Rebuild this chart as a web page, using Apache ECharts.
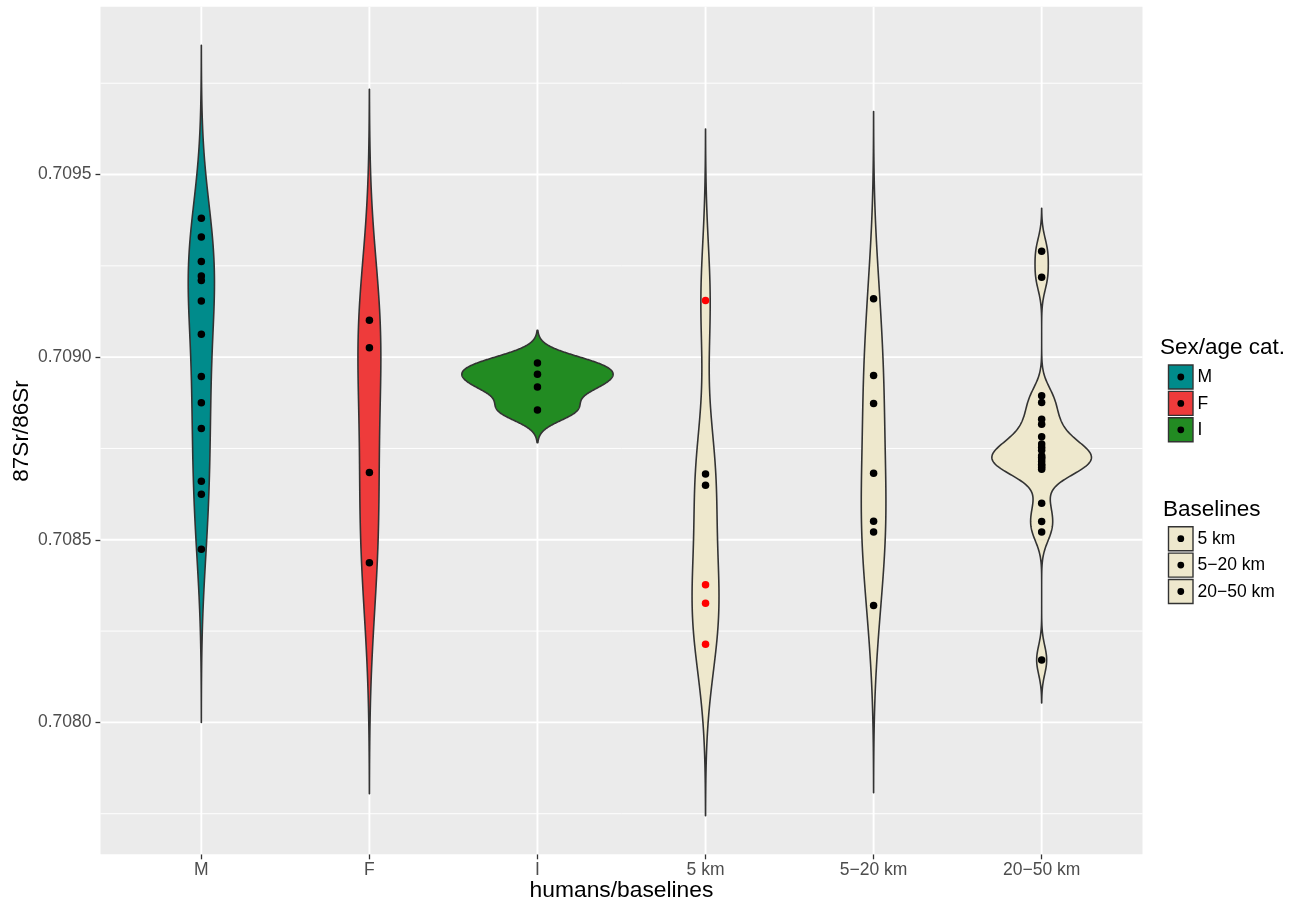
<!DOCTYPE html>
<html>
<head>
<meta charset="utf-8">
<script src="https://cdn.jsdelivr.net/npm/echarts@6/dist/echarts.min.js"></script>
<style>
html,body{margin:0;padding:0;background:#fff;}
#chart{width:1302px;height:905px;}
</style>
</head>
<body>
<div id="chart"></div>
<script>
// ---------- data ----------
const categories = ['M', 'F', 'I', '5 km', '5\u221220 km', '20\u221250 km'];
const valuesM = [0.709380, 0.709329, 0.709262, 0.709222, 0.709210, 0.709154, 0.709063,
                 0.708947, 0.708875, 0.708805, 0.708660, 0.708625, 0.708474];
const valuesF = [0.709101, 0.709026, 0.708684, 0.708437];
const valuesI = [0.708984, 0.708953, 0.708918, 0.708855];
const values5kmBlack = [0.708680, 0.708649];
const values5kmRed = [0.709155, 0.708377, 0.708326, 0.708214];
const values5to20 = [0.709160, 0.708950, 0.708873, 0.708682, 0.708551, 0.708521, 0.708320];
const values20to50 = [0.709290, 0.709219, 0.708894, 0.708876, 0.708830, 0.708816,
                      0.708782, 0.708762, 0.708753, 0.708745, 0.708730, 0.708726,
                      0.708721, 0.708714, 0.708707, 0.708703, 0.708698, 0.708693,
                      0.708600, 0.708550, 0.708521, 0.708171];
const yTickValues = [0.7080, 0.7085, 0.7090, 0.7095];
const yMinorValues = [0.70775, 0.70825, 0.70875, 0.70925, 0.70975];
const legendTitles = ['Sex/age cat.', 'Baselines'];

// ---------- styles ----------
const fillColors = ['#008B8B', '#EE3B3B', '#228B22', '#EEE8CD', '#EEE8CD', '#EEE8CD'];
const FONT = '"Liberation Sans", Arial, Helvetica, sans-serif';

// ---------- violin density (ggplot2 stat_ydensity: gaussian, bw.nrd0, trim = FALSE) ----------
const groups = [valuesM, valuesF, valuesI, values5kmBlack.concat(values5kmRed), values5to20, values20to50];
function q7(s, p) { const h = (s.length - 1) * p; const lo = Math.floor(h); const hi = Math.min(lo + 1, s.length - 1); return s[lo] + (h - lo) * (s[hi] - s[lo]); }
function bwNrd0(x) {
  const n = x.length; const mean = x.reduce((a, b) => a + b, 0) / n;
  const sd = Math.sqrt(x.reduce((a, b) => a + (b - mean) * (b - mean), 0) / (n - 1));
  const s = x.slice().sort((a, b) => a - b);
  const iqr = q7(s, 0.75) - q7(s, 0.25);
  let lo = Math.min(sd, iqr / 1.34);
  if (!(lo > 0)) lo = sd || Math.abs(s[0]) || 1;
  return 0.9 * lo * Math.pow(n, -0.2);
}
function kde(x) {
  const bw = bwNrd0(x); const n = x.length;
  const from = Math.min(...x) - 3 * bw, to = Math.max(...x) + 3 * bw;
  const N = 512, ys = [], ds = [];
  for (let k = 0; k < N; k++) {
    const y = from + (to - from) * k / (N - 1);
    let s = 0;
    for (const xi of x) { const u = (y - xi) / bw; s += Math.exp(-0.5 * u * u); }
    ys.push(y); ds.push(s / (n * bw * Math.sqrt(2 * Math.PI)));
  }
  return { ys, ds, from, to };
}
const dens = groups.map(kde);
const maxD = Math.max(...dens.map(d => Math.max(...d.ds)));
const lo = Math.min(...dens.map(d => d.from)), hi = Math.max(...dens.map(d => d.to));
const pad = 0.05 * (hi - lo);
const yMin = lo - pad, yMax = hi + pad;

// ---------- points ----------
const blackPts = [];
const redPts = [];
[valuesM, valuesF, valuesI, values5kmBlack, values5to20, values20to50].forEach((arr, i) => {
  arr.forEach(v => blackPts.push([i + 1, v]));
});
values5kmRed.forEach(v => redPts.push([4, v]));

// ---------- legend graphics ----------
const graphics = [];
function addLegend(title, titleX, titleY, idxs, top0) {
  graphics.push({ type: 'text', x: titleX, y: titleY, silent: true,
    style: { text: title, fill: '#000', font: '22.5px ' + FONT, align: 'left', verticalAlign: 'middle', textAlign: 'left', textVerticalAlign: 'middle' } });
  idxs.forEach((ci, k) => {
    const top = top0 + k * 26.4;
    graphics.push({ type: 'rect', silent: true, shape: { x: 1168.5, y: top, width: 24.5, height: 24 },
      style: { fill: fillColors[ci], stroke: '#333', lineWidth: 1.4 } });
    graphics.push({ type: 'circle', silent: true, shape: { cx: 1180.8, cy: top + 12, r: 3.4 }, style: { fill: '#000' } });
    graphics.push({ type: 'text', x: 1197.5, y: top + 12.5, silent: true,
      style: { text: categories[ci], fill: '#000', font: '17.5px ' + FONT, align: 'left', verticalAlign: 'middle', textAlign: 'left', textVerticalAlign: 'middle' } });
  });
}
addLegend(legendTitles[0], 1160, 348, [0, 1, 2], 365);
addLegend(legendTitles[1], 1163, 510, [3, 4, 5], 526.7);
graphics.push({ type: 'text', x: 21.5, y: 431, rotation: Math.PI / 2, silent: true,
  style: { text: '87Sr/86Sr', x: 0, y: 0, fill: '#000', font: '22.5px ' + FONT, align: 'center', verticalAlign: 'middle', textAlign: 'center', textVerticalAlign: 'middle' } });
graphics.push({ type: 'text', x: 621.5, y: 891, silent: true,
  style: { text: 'humans/baselines', fill: '#000', font: '22.8px ' + FONT, align: 'center', verticalAlign: 'middle', textAlign: 'center', textVerticalAlign: 'middle' } });

const catTicks = categories.map((c, i) => i + 1);

const option = {
  backgroundColor: '#fff',
  animation: false,
  grid: { left: 100.5, right: 159.5, top: 6.7, bottom: 50.7, show: true, backgroundColor: '#EBEBEB', borderWidth: 0 },
  xAxis: {
    type: 'value', min: 0.4, max: 6.6,
    axisLine: { show: false }, splitLine: { show: false },
    axisTick: { show: true, customValues: catTicks, length: 5, lineStyle: { color: '#333', width: 1.3 } },
    axisLabel: { customValues: catTicks, formatter: v => categories[Math.round(v) - 1] || '', color: '#4D4D4D', fontSize: 17.5, fontFamily: FONT, margin: 7 }
  },
  yAxis: {
    type: 'value', min: yMin, max: yMax,
    axisLine: { show: false }, splitLine: { show: false },
    axisTick: { show: true, customValues: yTickValues, length: 5, lineStyle: { color: '#333', width: 1.3 } },
    axisLabel: { customValues: yTickValues, formatter: v => v.toFixed(4), color: '#4D4D4D', fontSize: 17.5, fontFamily: FONT, margin: 9 }
  },
  graphic: graphics,
  series: [
    { // horizontal grid lines
      type: 'custom', z: 1, silent: true,
      data: yMinorValues.map(v => [1, v, 0]).concat(yTickValues.map(v => [1, v, 1])),
      renderItem: (params, api) => {
        const cs = params.coordSys; const y = api.coord([api.value(0), api.value(1)])[1];
        return { type: 'line', shape: { x1: cs.x, y1: y, x2: cs.x + cs.width, y2: y },
          style: { stroke: '#fff', lineWidth: api.value(2) ? 1.9 : 0.95 } };
      }
    },
    { // vertical grid lines
      type: 'custom', z: 1, silent: true,
      data: catTicks.map(i => [i, yTickValues[0]]),
      renderItem: (params, api) => {
        const cs = params.coordSys; const x = api.coord([api.value(0), api.value(1)])[0];
        return { type: 'line', shape: { x1: x, y1: cs.y, x2: x, y2: cs.y + cs.height },
          style: { stroke: '#fff', lineWidth: 1.9 } };
      }
    },
    { // violins
      type: 'custom', z: 3, silent: true,
      data: dens.map((d, i) => [i + 1, d.from]),
      renderItem: (params, api) => {
        const g = params.dataIndex; const d = dens[g];
        const cx = api.coord([g + 1, d.ys[0]])[0];
        const unit = api.size([1, 0])[0];
        const left = [], right = [];
        for (let k = 0; k < d.ys.length; k++) {
          const py = api.coord([g + 1, d.ys[k]])[1];
          const hw = d.ds[k] / maxD * 0.45 * unit;
          left.push([cx - hw, py]); right.push([cx + hw, py]);
        }
        return { type: 'polygon', shape: { points: left.concat(right.reverse()) },
          style: { fill: fillColors[g], stroke: '#333', lineWidth: 1.6, lineJoin: 'round' } };
      }
    },
    { type: 'scatter', z: 4, silent: true, symbolSize: 7.5, itemStyle: { color: '#000', opacity: 1 }, data: blackPts },
    { type: 'scatter', z: 4, silent: true, symbolSize: 7.5, itemStyle: { color: '#FF0000', opacity: 1 }, data: redPts }
  ]
};
const chart = echarts.init(document.getElementById('chart'), null, { renderer: 'canvas' });
chart.setOption(option);
</script>
</body>
</html>
